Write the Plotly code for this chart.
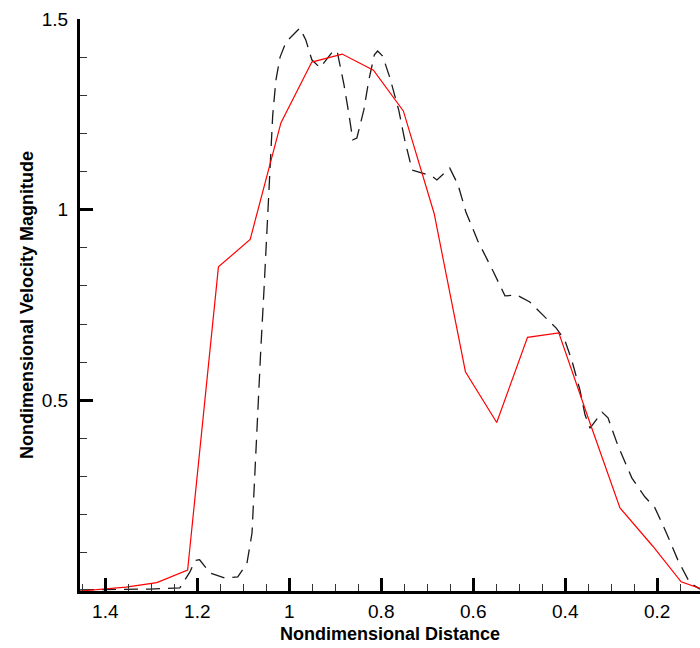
import plotly.graph_objects as go

# solid red profile (vertices)
red_x = [1.455, 1.422, 1.355, 1.288, 1.221, 1.154, 1.085, 1.018, 0.951, 0.885,
         0.817, 0.752, 0.685, 0.617, 0.549, 0.482, 0.414, 0.346, 0.281, 0.21,
         0.148, 0.107]
red_y = [0.0, 0.003, 0.01, 0.022, 0.055, 0.85, 0.922, 1.228, 1.387, 1.408,
         1.366, 1.259, 0.99, 0.575, 0.442, 0.665, 0.677, 0.44, 0.218, 0.118,
         0.024, 0.007]

# dashed black profile
dash_x = [1.455, 1.303, 1.238, 1.216, 1.205, 1.195, 1.172, 1.14, 1.112, 1.092,
          1.081, 1.075, 1.068, 1.062, 1.055, 1.049, 1.042, 1.036, 1.029, 1.02,
          1.007, 0.977, 0.964, 0.951, 0.933, 0.916, 0.903, 0.895, 0.881, 0.87,
          0.862, 0.853, 0.838, 0.827, 0.815, 0.808, 0.797, 0.781, 0.762, 0.749,
          0.733, 0.69, 0.679, 0.651, 0.633, 0.616, 0.59, 0.557, 0.531, 0.505,
          0.477, 0.449, 0.42, 0.401, 0.386, 0.368, 0.357, 0.346, 0.333, 0.32,
          0.307, 0.286, 0.255, 0.227, 0.205, 0.181, 0.155, 0.129, 0.107]
dash_y = [0.003, 0.005, 0.008, 0.05, 0.08, 0.082, 0.047, 0.034, 0.037, 0.073,
          0.152, 0.309, 0.467, 0.632, 0.789, 0.939, 1.104, 1.248, 1.34, 1.4,
          1.44, 1.476, 1.445, 1.393, 1.372, 1.4, 1.419, 1.41, 1.327, 1.248,
          1.183, 1.188, 1.261, 1.34, 1.406, 1.416, 1.403, 1.345, 1.261, 1.183,
          1.104, 1.088, 1.078, 1.109, 1.065, 0.994, 0.918, 0.839, 0.774, 0.776,
          0.758, 0.724, 0.69, 0.658, 0.606, 0.527, 0.462, 0.427, 0.448, 0.469,
          0.454, 0.383, 0.296, 0.247, 0.218, 0.155, 0.081, 0.021, 0.005]

y_ticks = [0.5, 1, 1.5]
y_ticktext = ["0.5", "1", "1.5"]

fig = go.Figure()
fig.add_trace(go.Scatter(x=dash_x, y=dash_y, mode="lines",
                         line=dict(color="#1a1a1a", width=1.3, dash="14px,8px")))
fig.add_trace(go.Scatter(x=red_x, y=red_y, mode="lines",
                         line=dict(color="#ff0000", width=1.2)))

axis_font = dict(family="Liberation Sans, Arial", size=19, color="black")
title_font = dict(family="Liberation Sans, Arial", size=18, color="black")

fig.update_layout(
    width=700, height=648,
    margin=dict(l=80, r=0, t=19, b=57),
    plot_bgcolor="white", paper_bgcolor="white",
    showlegend=False,
    xaxis=dict(
        range=[1.455, 0.107], showgrid=False, zeroline=False, automargin=False,
        showline=True, linecolor="black", linewidth=3,
        ticks="inside", ticklen=13, tickwidth=3, tickcolor="black",
        tick0=0, dtick=0.2, tickfont=axis_font, ticklabelstandoff=1,
        minor=dict(ticks="inside", dtick=0.05, tick0=0, ticklen=7,
                   tickwidth=1.3, tickcolor="#333"),
        title=dict(text="<b>Nondimensional Distance</b>", font=title_font, standoff=7),
    ),
    yaxis=dict(
        range=[0, 1.5], showgrid=False, zeroline=False, automargin=False,
        showline=True, linecolor="black", linewidth=3,
        ticks="inside", ticklen=13, tickwidth=3, tickcolor="black",
        tickvals=y_ticks, ticktext=y_ticktext, tickfont=axis_font,
        ticklabelstandoff=5,
        minor=dict(ticks="inside", dtick=0.1, tick0=0, ticklen=7,
                   tickwidth=1.3, tickcolor="#333"),
        title=dict(text="<b>Nondimensional Velocity Magnitude</b>", font=title_font, standoff=4),
    ),
)

# drop the default page margin so the figure sits at the window's corner
fig.write_html("out.html", config={"displayModeBar": False},
               post_script="document.body.style.margin='0';document.body.style.overflow='hidden';")
